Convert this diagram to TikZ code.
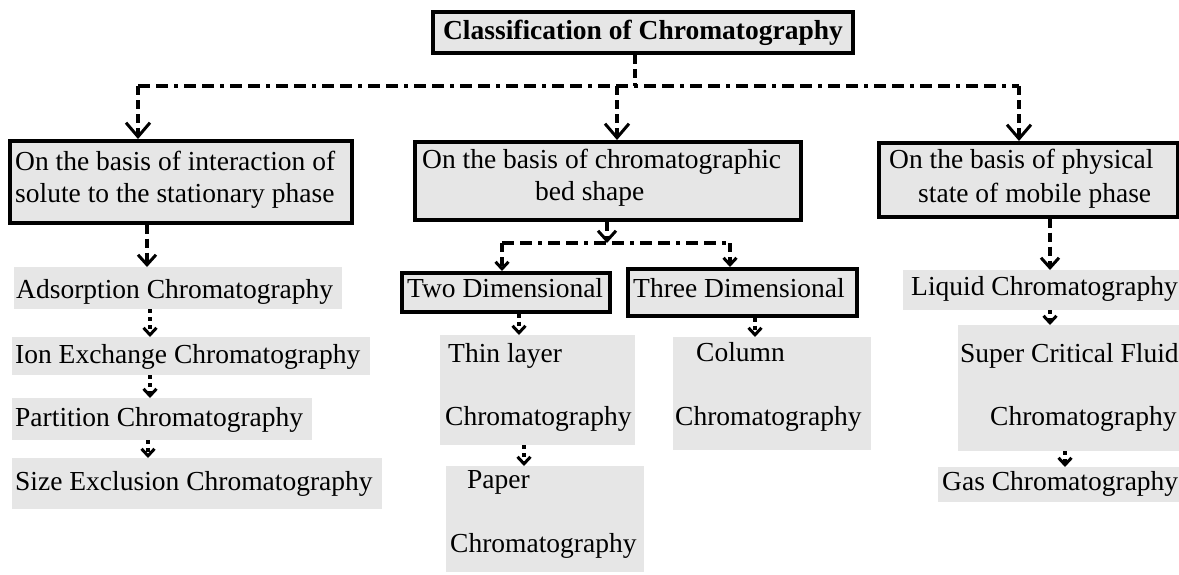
\documentclass[tikz,border=0pt]{standalone}
\usepackage{fontspec}
\setmainfont{Liberation Serif}
\usetikzlibrary{arrows.meta}
\definecolor{boxgray}{HTML}{E6E6E6}
\tikzset{
  bbox/.style={draw=black, line width=3.5pt, fill=boxgray, inner sep=0pt, anchor=north west},
  gbox/.style={fill=boxgray, inner sep=0pt, anchor=north west},
  txt/.style={anchor=base west, inner sep=0pt, font=\fontsize{27.5}{33}\selectfont},
  conn/.style={line width=3.5pt, dash pattern=on 9pt off 5pt},
  dotconn/.style={line width=3.5pt, dash pattern=on 4pt off 4pt},
  dashdot/.style={line width=3.5pt, dash pattern=on 12pt off 6pt on 12pt off 6pt on 4pt off 6pt},
  bigarr/.style={-{Straight Barb[length=14pt,width=24pt,line width=3pt]}},
  midarr/.style={-{Straight Barb[length=10pt,width=18pt,line width=3pt]}},
  smallarr/.style={-{Straight Barb[length=7pt,width=13pt,line width=3pt]}}
}
\begin{document}
\begin{tikzpicture}[x=1pt,y=-1pt]
\useasboundingbox (0,0) rectangle (1179,574);
% boxes
\node[bbox, minimum width=420pt, minimum height=41pt, font=\fontsize{27.5}{33}\selectfont\bfseries, anchor=center] (title) at (643,32.5) {Classification of Chromatography};
\node[bbox, minimum width=342pt, minimum height=82pt] (b1) at (8,139) {};
\node[bbox, minimum width=386pt, minimum height=78pt] (b2) at (413,140) {};
\node[bbox, minimum width=299pt, minimum height=74pt] (b3) at (877,141) {};
\node[bbox, minimum width=208pt, minimum height=39pt] (two) at (400,271) {};
\node[bbox, minimum width=229pt, minimum height=47pt] (three) at (626,267) {};
\node[gbox, minimum width=328pt, minimum height=42pt] (ads) at (14,267) {};
\node[gbox, minimum width=358pt, minimum height=38pt] (ion) at (12,337) {};
\node[gbox, minimum width=300pt, minimum height=42pt] (par) at (12,398) {};
\node[gbox, minimum width=370pt, minimum height=51pt] (size) at (12,458) {};
\node[gbox, minimum width=195pt, minimum height=110pt] (thin) at (440,335) {};
\node[gbox, minimum width=198pt, minimum height=106pt] (paper) at (446,466) {};
\node[gbox, minimum width=198pt, minimum height=113pt] (column) at (673,337) {};
\node[gbox, minimum width=276pt, minimum height=40pt] (liquid) at (903,270) {};
\node[gbox, minimum width=221pt, minimum height=126pt] (scf) at (958,325) {};
\node[gbox, minimum width=241pt, minimum height=35pt] (gas) at (938,467) {};
% texts
\node[txt] (b1a) at (15,170) {On the basis of interaction of};
\node[txt] (b1b) at (15,202) {solute to the stationary phase};
\node[txt] (b2a) at (422,168) {On the basis of chromatographic};
\node[txt] (b2b) at (535,200) {bed shape};
\node[txt] (b3a) at (889,168) {On the basis of physical};
\node[txt] (b3b) at (918,202) {state of mobile phase};
\node[txt] (twot) at (407,297) {Two Dimensional};
\node[txt] (threet) at (633,297) {Three Dimensional};
\node[txt] (adst) at (16,298) {Adsorption Chromatography};
\node[txt] (iont) at (15,363) {Ion Exchange Chromatography};
\node[txt] (part) at (15,426) {Partition Chromatography};
\node[txt] (sizet) at (15,490) {Size Exclusion Chromatography};
\node[txt] (thina) at (448,362) {Thin layer};
\node[txt] (thinb) at (445,425) {Chromatography};
\node[txt] (papera) at (467,488) {Paper};
\node[txt] (paperb) at (450,552) {Chromatography};
\node[txt] (columna) at (696,361) {Column};
\node[txt] (columnb) at (675,425) {Chromatography};
\node[txt] (liquidt) at (911,295) {Liquid Chromatography};
\node[txt] (scfa) at (960,362) {Super Critical Fluid};
\node[txt] (scfb) at (990,425) {Chromatography};
\node[txt] (gast) at (942,490) {Gas Chromatography};
% connector points
\coordinate (jt) at (635,86);
\coordinate (hl) at (138,86);
\coordinate (hm) at (617,86);
\coordinate (hr) at (1019,86);
\coordinate (mj) at (607,243);
\coordinate (ml) at (502,243);
\coordinate (mr) at (730,243);
% top level
\draw[conn] (title.south -| jt) -- (jt);
\draw[dashdot] (hl) -- (hr);
\draw[conn, bigarr] (hl) -- (hl |- b1.north);
\draw[conn, bigarr] (hm) -- (hm |- b2.north);
\draw[conn, bigarr] (hr) -- (hr |- b3.north);
% middle branch
\draw[conn, midarr] (b2.south -| mj) -- (mj);
\draw[dashdot] (ml) -- (mr);
\draw[conn, smallarr] (ml) -- (ml |- two.north);
\draw[conn, smallarr] (mr) -- (mr |- three.north);
\draw[dotconn, smallarr] (two.south -| 519,0) -- (thin.north -| 519,0);
\draw[dotconn, smallarr] (thin.south -| 524,0) -- (paper.north -| 524,0);
\draw[dotconn, smallarr] (three.south -| 755,0) -- (column.north -| 755,0);
% left branch
\draw[conn, midarr] (b1.south -| 147,0) -- (ads.north -| 147,0);
\draw[dotconn, smallarr] (ads.south -| 150,0) -- (ion.north -| 150,0);
\draw[dotconn, smallarr] (ion.south -| 150,0) -- (par.north -| 150,0);
\draw[dotconn, smallarr] (par.south -| 148,0) -- (size.north -| 148,0);
% right branch
\draw[conn, midarr] (b3.south -| 1050,0) -- (liquid.north -| 1050,0);
\draw[dotconn, smallarr] (liquid.south -| 1050,0) -- (scf.north -| 1050,0);
\draw[dotconn, smallarr] (scf.south -| 1065,0) -- (gas.north -| 1065,0);
\end{tikzpicture}
\end{document}
